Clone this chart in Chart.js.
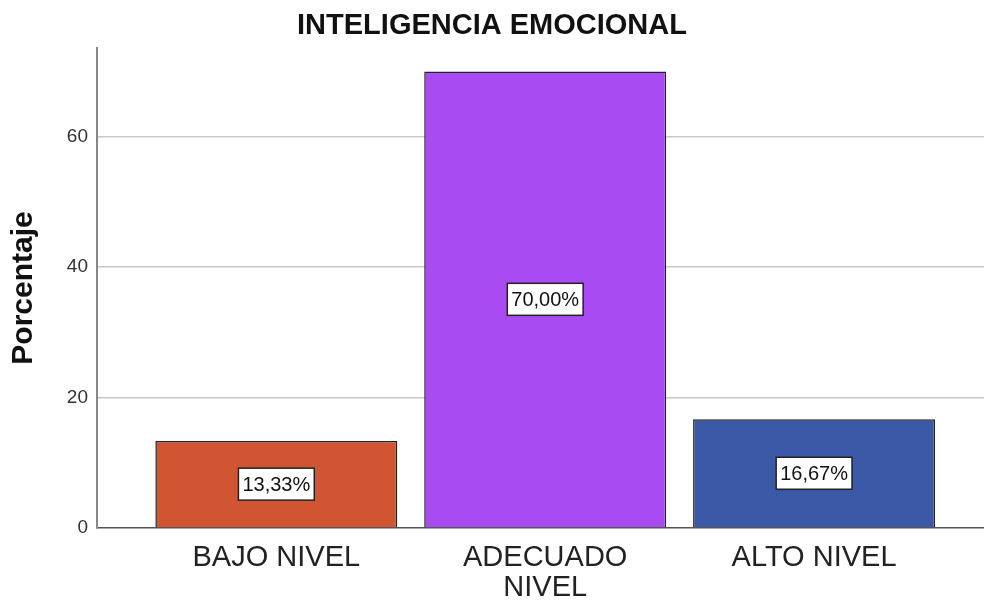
<!DOCTYPE html>
<html>
<head>
<meta charset="utf-8">
<script src="https://cdn.jsdelivr.net/npm/chart.js@4.4.1/dist/chart.umd.min.js"></script>
<style>
  html, body { margin: 0; padding: 0; background: #fff; }
  #wrap { width: 984px; height: 602px; position: relative; }
</style>
</head>
<body>
<div id="wrap"><canvas id="grafico"></canvas></div>
<script>
// Datos del gráfico
const categorias = [['BAJO NIVEL'], ['ADECUADO', 'NIVEL'], ['ALTO NIVEL']];
const porcentajes = [13.33, 70.00, 16.67];
const colores = ['#D15532', '#A94BF2', '#3C59A8'];
const ticksY = [0, 20, 40, 60];

const fuente = '"Liberation Sans", Arial, sans-serif';

// Etiquetas con recuadro blanco en el centro de cada barra
const etiquetasBarras = {
    id: 'etiquetasBarras',
    afterDatasetsDraw(chart) {
        const ctx = chart.ctx;
        const meta = chart.getDatasetMeta(0);
        ctx.save();
        ctx.font = '20px ' + fuente;
        ctx.textAlign = 'center';
        ctx.textBaseline = 'middle';
        meta.data.forEach((bar, i) => {
            const texto = porcentajes[i].toFixed(2).replace('.', ',') + '%';
            const w = ctx.measureText(texto).width + 8;
            const h = 32;
            const cx = bar.x;
            const cy = (bar.y + bar.base) / 2;
            ctx.fillStyle = '#fff';
            ctx.fillRect(cx - w / 2, cy - h / 2, w, h);
            ctx.strokeStyle = '#222';
            ctx.lineWidth = 1.5;
            ctx.strokeRect(cx - w / 2, cy - h / 2, w, h);
            ctx.fillStyle = '#111';
            ctx.fillText(texto, cx, cy + 1);
        });
        ctx.restore();
    }
};

const ctx = document.getElementById('grafico').getContext('2d');
new Chart(ctx, {
    type: 'bar',
    data: {
        datasets: [{
            label: 'Porcentaje',
            data: porcentajes.map((v, i) => ({ x: i, y: v })),
            backgroundColor: colores,
            borderColor: '#222',
            borderWidth: 1.5,
            barPercentage: 0.9,
            categoryPercentage: 1
        }]
    },
    options: {
        responsive: true,
        maintainAspectRatio: false,
        animation: false,
        layout: { padding: 0 },
        plugins: {
            legend: { display: false },
            tooltip: { enabled: false },
            title: {
                display: true,
                text: 'INTELIGENCIA EMOCIONAL',
                color: '#111',
                font: { family: fuente, size: 29, weight: 'bold', lineHeight: 1.1 },
                padding: { top: 10, bottom: 6 }
            }
        },
        scales: {
            x: {
                type: 'linear',
                offset: false,
                min: -0.667,
                max: 2.632,
                grid: { display: false, drawTicks: false },
                border: { color: '#555', width: 1.5 },
                afterBuildTicks: (scale) => {
                    scale.ticks = categorias.map((_, i) => ({ value: i }));
                },
                afterFit: (scale) => { scale.height = 74; },
                ticks: {
                    autoSkip: false,
                    maxRotation: 0,
                    padding: 15,
                    color: '#222',
                    font: { family: fuente, size: 29, lineHeight: 1.04 },
                    callback: (v) => categorias[v]
                }
            },
            y: {
                min: 0,
                max: 73.6,
                afterBuildTicks: (scale) => {
                    scale.ticks = ticksY.map(v => ({ value: v }));
                },
                afterFit: (scale) => { scale.width = 97; },
                grid: {
                    drawTicks: false,
                    color: (c) => c.tick && c.tick.value === 0 ? 'rgba(0,0,0,0)' : '#c8c8c8',
                    lineWidth: 1.5
                },
                border: { color: '#888', width: 2 },
                ticks: {
                    padding: 9,
                    color: '#333',
                    font: { family: fuente, size: 19 }
                },
                title: {
                    display: true,
                    text: 'Porcentaje',
                    color: '#111',
                    font: { family: fuente, size: 30, weight: 'bold' },
                    padding: { top: 6, bottom: 0 }
                }
            }
        }
    },
    plugins: [etiquetasBarras]
});
</script>
</body>
</html>
